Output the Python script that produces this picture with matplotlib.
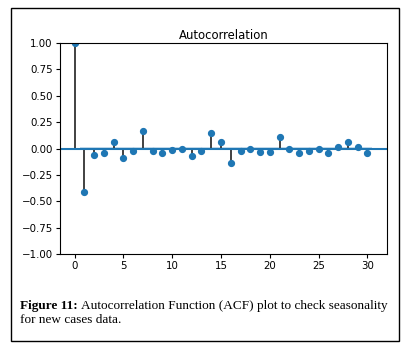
import numpy as np
import matplotlib.pyplot as plt
from matplotlib.patches import Rectangle

# ACF values
lags = np.arange(0, 31)
acf_vals = [1.0, -0.41, -0.057, -0.047, 0.063, -0.085, -0.028, 0.17, -0.022, -0.047,
            -0.01, 0.0, -0.066, -0.022, 0.145, 0.063, -0.135, -0.022, 0.0, -0.03,
            -0.03, 0.11, -0.003, -0.047, -0.022, -0.003, -0.047, 0.01, 0.063, 0.01,
            -0.038]
conf = 0.018  # half width of the confidence band

fig = plt.figure(figsize=(4.07, 3.47), dpi=100)
ax = fig.add_axes([0.147, 0.267, 0.804, 0.61])

ax.vlines(lags, 0, acf_vals, colors='#333333', linewidth=1.3)
ax.plot(lags, acf_vals, 'o', color='#1f77b4', markersize=4.2)
ax.axhline(0, color='#1f77b4', linewidth=1.5)
band_x = np.append(lags[1:] - 0.5, 30.5)
ax.fill_between(band_x, -conf, conf, color='#1f77b4', alpha=0.25, linewidth=0)
ax.margins(0.05)
ax.set_ylim(-1, 1)
ax.set_yticks(np.arange(-1, 1.01, 0.25))
ax.set_xticks([0, 5, 10, 15, 20, 25, 30])
ax.tick_params(labelsize=7.4, length=3, width=0.8, pad=2)
for s in ax.spines.values():
    s.set_linewidth(0.8)
ax.set_title('Autocorrelation', fontsize=8.4, pad=3)

# frame around the figure
fig.patches.append(Rectangle((10.5 / 407, 1 - 341 / 347), 388 / 407, 333 / 347,
                             transform=fig.transFigure, fill=False,
                             edgecolor='black', linewidth=1.0))

# caption
cap_font = 'Liberation Serif'
cap_size = 9.5
t1 = fig.text(20 / 407, 1 - 306 / 347, 'Figure 11:', fontsize=cap_size, family=cap_font,
              fontweight='bold', va='center')
fig.canvas.draw()
bb = t1.get_window_extent()
fig.text((bb.x1 + 3) / 407, 1 - 306 / 347,
         'Autocorrelation Function (ACF) plot to check seasonality',
         fontsize=cap_size, family=cap_font, va='center')
fig.text(20 / 407, 1 - 320 / 347, 'for new cases data.', fontsize=cap_size,
         family=cap_font, va='center')

fig.savefig('out.png', dpi=100)
